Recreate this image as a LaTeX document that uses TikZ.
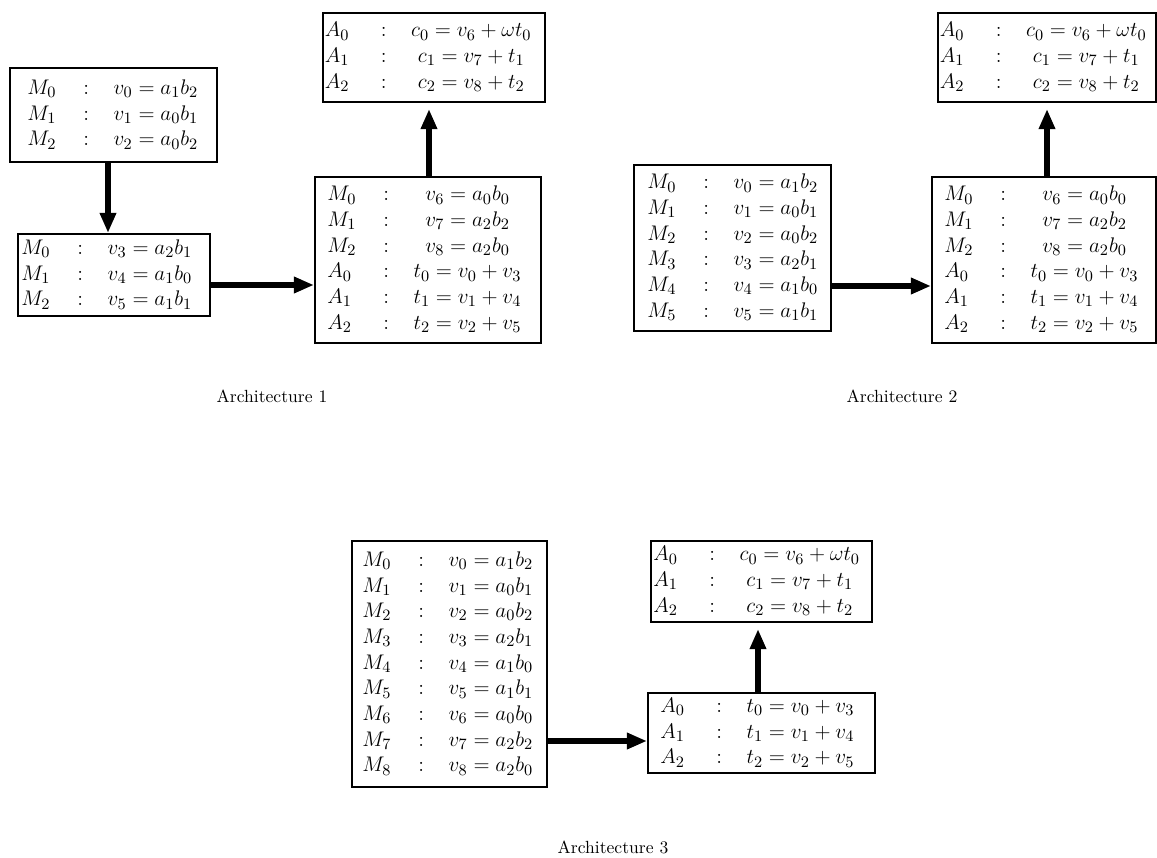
\documentclass[tikz,border=0pt]{standalone}
\usetikzlibrary{arrows.meta,fit,calc}

% one row of a unit table: unit, colon, operation
\newcommand\rw[2]{\makebox[27pt][l]{$#1$}\makebox[13pt]{$:$}\hspace{9pt} & $#2$ \\}
\newcommand\unittab[1]{{\fontsize{12.5}{14.6}\selectfont\begin{tabular}{@{}l@{}c@{}}#1\end{tabular}}}

\newcommand\finalrows{%
  \rw{A_0}{c_0 = v_6 + \omega t_0}
  \rw{A_1}{c_1 = v_7 + t_1}
  \rw{A_2}{c_2 = v_8 + t_2}}
\newcommand\addrows{%
  \rw{A_0}{t_0 = v_0 + v_3}
  \rw{A_1}{t_1 = v_1 + v_4}
  \rw{A_2}{t_2 = v_2 + v_5}}
\newcommand\mulrowsA{%
  \rw{M_0}{v_0 = a_1b_2}
  \rw{M_1}{v_1 = a_0b_1}
  \rw{M_2}{v_2 = a_0b_2}}
\newcommand\mulrowsB{%
  \rw{M_3}{v_3 = a_2b_1}
  \rw{M_4}{v_4 = a_1b_0}
  \rw{M_5}{v_5 = a_1b_1}}
\newcommand\mulrowsC{%
  \rw{M_6}{v_6 = a_0b_0}
  \rw{M_7}{v_7 = a_2b_2}
  \rw{M_8}{v_8 = a_2b_0}}
\newcommand\mixrows{%
  \rw{M_0}{v_6 = a_0b_0}
  \rw{M_1}{v_7 = a_2b_2}
  \rw{M_2}{v_8 = a_2b_0}
  \addrows}

\tikzset{
  frame/.style={draw, line width=1.2pt, inner sep=0pt},
  tabtext/.style={anchor=west, inner sep=0pt},
  flow/.style={line width=3.6pt, -{Triangle[length=11.4pt,width=8.8pt]}},
  upflow/.style={flow, shorten >=3.4pt},
  caption/.style={anchor=base, inner sep=0pt},
}

\begin{document}
\begin{tikzpicture}[x=0.568pt, y=-0.568pt]
\useasboundingbox (0,0) rectangle (1157,857);

% ---------- Architecture 1 ----------
\node[frame, fit={(10,68) (217,162)}] (a1) {};
\node[tabtext] (a1t) at (27,115) {\unittab{\mulrowsA}};
\node[frame, fit={(18,234) (210,316)}] (b1) {};
\node[tabtext] (b1t) at (21,275) {\unittab{
  \rw{M_0}{v_3 = a_2b_1}
  \rw{M_1}{v_4 = a_1b_0}
  \rw{M_2}{v_5 = a_1b_1}}};
\node[frame, fit={(315,177) (541,343)}] (c1) {};
\node[tabtext] (c1t) at (327,260) {\unittab{\mixrows}};
\node[frame, fit={(323,13) (545,102)}] (d1) {};
\node[tabtext] (d1t) at (324.5,57.5) {\unittab{\finalrows}};

\coordinate (p1) at ($(a1.south)+(-5.5,0)$);
\draw[flow] (p1) -- (p1 |- b1.north);
\coordinate (p2) at ($(b1.east)+(0,10)$);
\draw[flow] (p2) -- (p2 -| c1.west);
\coordinate (p3) at ($(c1.north)+(1,0)$);
\draw[upflow] (p3) -- (p3 |- d1.south);

\node[caption] (cap1) at (272,402) {Architecture 1};

% ---------- Architecture 2 ----------
\node[frame, fit={(634,165) (831,331)}] (a2) {};
\node[tabtext] (a2t) at (647,248) {\unittab{\mulrowsA\mulrowsB}};
\node[frame, fit={(932,177) (1156,343)}] (c2) {};
\node[tabtext] (c2t) at (944,260) {\unittab{\mixrows}};
\node[frame, fit={(938,13) (1156,102)}] (d2) {};
\node[tabtext] (d2t) at (939.5,57.5) {\unittab{\finalrows}};

\coordinate (q1) at ($(a2.east)+(0,38)$);
\draw[flow] (q1) -- (q1 -| c2.west);
\coordinate (q2) at ($(c2.north)+(3,0)$);
\draw[upflow] (q2) -- (q2 |- d2.south);

\node[caption] (cap2) at (902,402) {Architecture 2};

% ---------- Architecture 3 ----------
\node[frame, fit={(352,541) (547,787)}] (a3) {};
\node[tabtext] (a3t) at (362,664) {\unittab{\mulrowsA\mulrowsB\mulrowsC}};
\node[frame, fit={(648,693) (875,773)}] (c3) {};
\node[tabtext] (c3t) at (660,733) {\unittab{\addrows}};
\node[frame, fit={(651,541) (872,622)}] (d3) {};
\node[tabtext] (d3t) at (653,581.5) {\unittab{\finalrows}};

\coordinate (r1) at ($(a3.east)+(0,77)$);
\draw[flow] (r1) -- (r1 -| c3.west);
\coordinate (r2) at ($(c3.north)+(-3.5,0)$);
\draw[upflow] (r2) -- (r2 |- d3.south);

\node[caption] (cap3) at (613,853) {Architecture 3};
\end{tikzpicture}
\end{document}
